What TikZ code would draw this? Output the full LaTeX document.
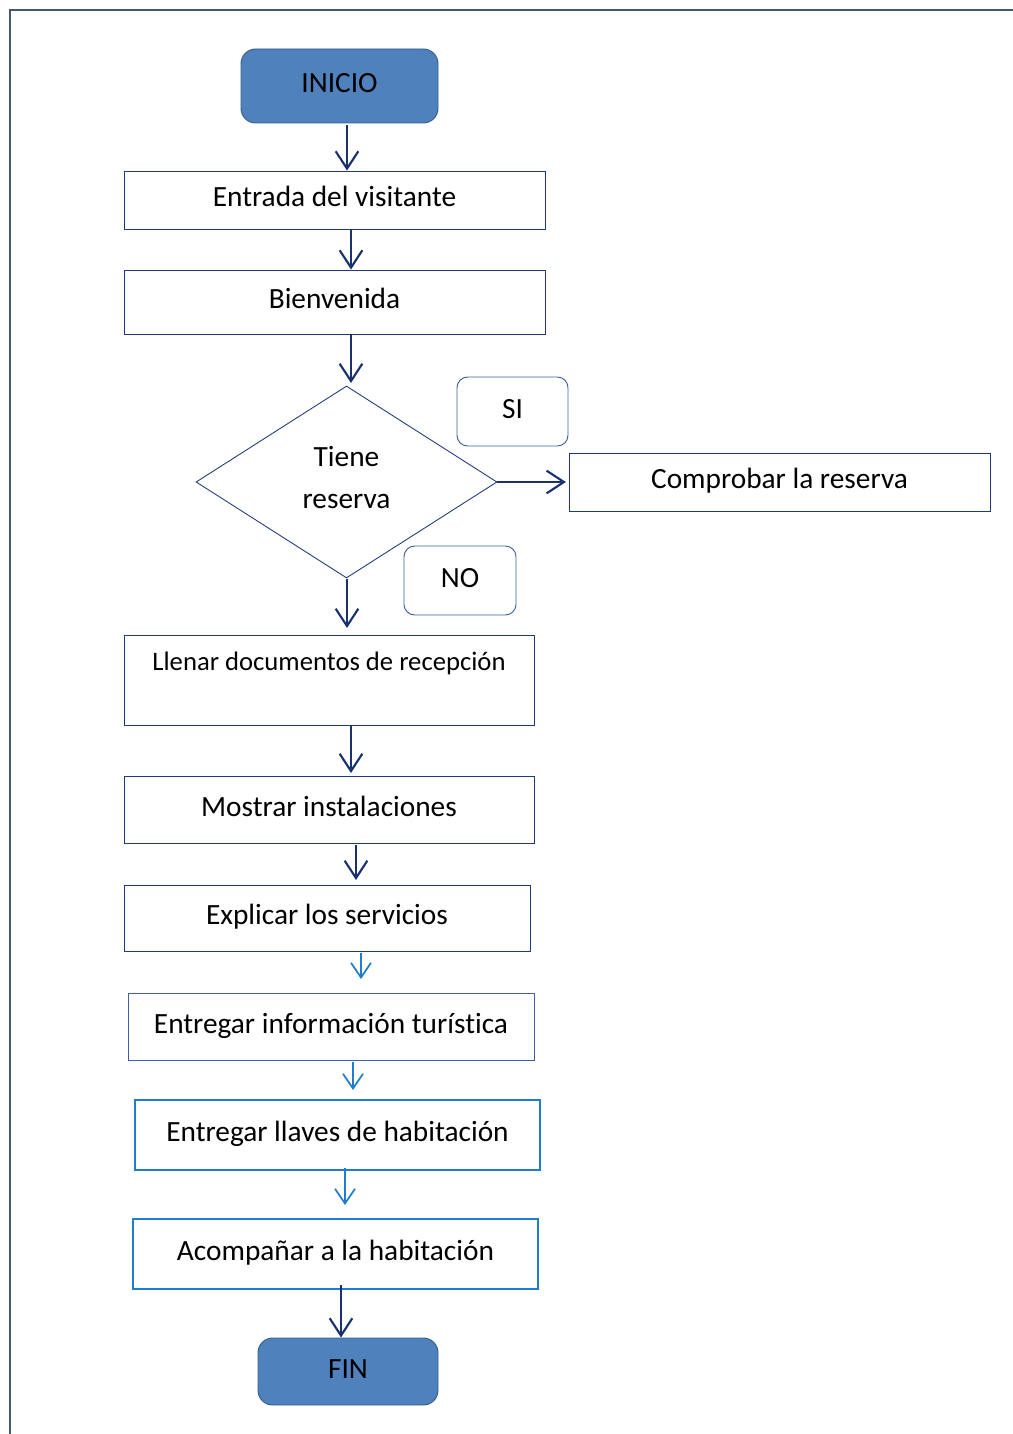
\documentclass[tikz,border=0pt]{standalone}
\usepackage{fontspec}
\setmainfont{Carlito}[Ligatures={NoCommon}]
\usetikzlibrary{arrows.meta,shapes.geometric}
\definecolor{navy}{HTML}{1F3A78}
\definecolor{arrnavy}{HTML}{1A3170}
\definecolor{lblue}{HTML}{1F7DCC}
\definecolor{termfill}{HTML}{4F81BD}
\definecolor{termdraw}{HTML}{385D8A}
\definecolor{labdraw}{HTML}{3F5F9F}
\definecolor{framec}{HTML}{4A5670}
\begin{document}
\begin{tikzpicture}[x=0.75pt,y=-0.75pt,
  txt/.style={font=\fontsize{22}{27}\selectfont, text height=14pt, text depth=4pt},
  box/.style={draw=navy, line width=0.65pt, inner sep=0pt, txt},
  lbox/.style={draw=lblue, line width=0.9pt, inner sep=0pt, txt},
  term/.style={draw=termdraw, fill=termfill, line width=0.7pt, rounded corners=11pt, inner sep=0pt, txt},
  lab/.style={draw=labdraw, line width=0.7pt, rounded corners=8pt, inner sep=0pt, txt},
  decision/.style={diamond, draw=navy, line width=0.65pt, inner sep=0pt, align=center,
     font=\fontsize{22}{31.5}\selectfont},
  arr/.style={draw=arrnavy, line width=1.9pt, -{Straight Barb[length=13pt,width=17pt,line width=1.6pt]}},
  larr/.style={draw=lblue, line width=1.5pt, -{Straight Barb[length=11pt,width=15pt,line width=1.3pt]}}
]
\useasboundingbox (0,0) rectangle (1013,1434);
% page frame
\draw[framec, line width=0.8pt] (10,1440) -- (10,10) -- (1020,10);

\node[term, minimum width=147.75pt, minimum height=55.5pt] (inicio) at (339.5,86) {INICIO};
\node[box, minimum width=315.75pt, minimum height=43.5pt] (entrada) at (334.5,200) {Entrada del visitante};
\node[box, minimum width=315.75pt, minimum height=48pt] (bienv) at (334.5,302) {Bienvenida};
\node[decision, minimum width=225.75pt, minimum height=144pt] (dec) at (346.5,482) {Tiene\\reserva\\[-25pt]\mbox{}};
\node[lab, minimum width=83.25pt, minimum height=51.75pt] (si) at (512.5,411.5) {SI};
\node[box, minimum width=315.75pt, minimum height=43.5pt] (comp) at (779.5,482) {Comprobar la reserva};
\node[lab, minimum width=84pt, minimum height=51.75pt] (no) at (460,580.5) {NO};
\node[box, minimum width=307.5pt, minimum height=67.5pt, font=\fontsize{20}{24}\selectfont, text height=14pt, text depth=28pt] (llenar) at (329,680) {Llenar documentos de recepción};
\node[box, minimum width=307.5pt, minimum height=50.25pt] (mostrar) at (329,809.5) {Mostrar instalaciones};
\node[box, minimum width=304.5pt, minimum height=49.5pt] (explicar) at (327,918) {Explicar los servicios};
\node[box, draw=labdraw, minimum width=304.5pt, minimum height=50.25pt] (info) at (331,1026.5) {Entregar información turística};
\node[lbox, minimum width=303.75pt, minimum height=52.5pt] (llaves) at (337.5,1135) {Entregar llaves de habitación};
\node[lbox, minimum width=303.75pt, minimum height=52.5pt] (acomp) at (335.5,1254) {Acompañar a la habitación};
\node[term, minimum width=135pt, minimum height=50.25pt] (fin) at (348,1371.5) {FIN};

\draw[arr] (347,125) -- (347,0 |- entrada.north);
\draw[arr] (351,0 |- entrada.south) -- (351,0 |- bienv.north);
\draw[arr] (351,0 |- bienv.south) -- (351,383);
\draw[arr] (dec.east) -- ([xshift=-2pt]comp.west);
\draw[arr] (347,579) -- (347,628);
\draw[arr] (351,0 |- llenar.south) -- (351,773);
\draw[arr] (356,845) -- (356,880);
\draw[larr] (361,953) -- (361,979);
\draw[larr] (353,1062) -- (353,1090);
\draw[larr] (345,1168) -- (345,1205);
\draw[arr] (341,1285) -- (341,0 |- fin.north);
\end{tikzpicture}
\end{document}
